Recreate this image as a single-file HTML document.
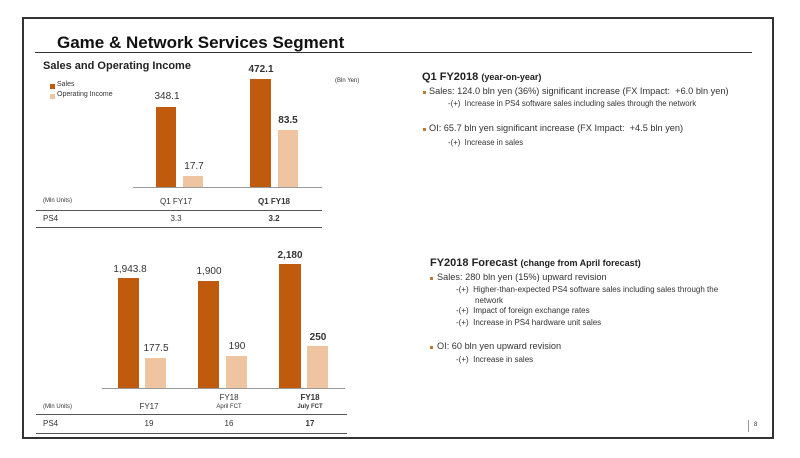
<!DOCTYPE html>
<html><head><style>
body{margin:0;width:800px;height:458px;background:#fff;font-family:"Liberation Sans",sans-serif;color:#222;position:relative;overflow:hidden}
div,span{position:absolute;white-space:nowrap}
.b{font-weight:bold}
.s{background:#c05a0c}
.o{background:#efc4a0}
.t{font-size:8px;color:#333}
.v{font-size:10px;color:#333;transform:translateX(-50%)}
.c{transform:translateX(-50%)}
.ln{background:#555;height:1px}
.sq{width:5px;height:5px}
</style></head><body>
<div style="left:22px;top:17px;width:748px;height:418px;border:2px solid #333"></div>
<div class="b" style="left:57px;top:33px;font-size:17px;color:#111">Game &amp; Network Services Segment</div>
<div style="left:35px;top:52px;width:717px;height:1px;background:#333"></div>
<div class="b" style="left:43px;top:60px;font-size:11px">Sales and Operating Income</div>
<div class="sq s" style="left:50px;top:84px"></div><div class="t" style="left:57px;top:81px;font-size:7px">Sales</div>
<div class="sq o" style="left:50px;top:94px"></div><div class="t" style="left:57px;top:91px;font-size:7px">Operating Income</div>
<div class="t" style="left:335px;top:78px;font-size:6px">(Bln Yen)</div>
<div style="left:133px;top:187px;width:189px;height:1px;background:#999"></div>
<div class="s" style="left:156px;top:107px;width:20px;height:80px"></div>
<div class="o" style="left:183px;top:176px;width:20px;height:11px"></div>
<div class="s" style="left:250px;top:79px;width:21px;height:108px"></div>
<div class="o" style="left:278px;top:130px;width:20px;height:57px"></div>
<div class="v" style="left:167px;top:91px">348.1</div>
<div class="v" style="left:194px;top:161px">17.7</div>
<div class="v b" style="left:261px;top:64px">472.1</div>
<div class="v b" style="left:288px;top:115px">83.5</div>
<div class="t" style="left:43px;top:198px;font-size:6px">(Mln Units)</div>
<div class="c t" style="left:176px;top:197px">Q1 FY17</div>
<div class="c t b" style="left:274px;top:197px">Q1 FY18</div>
<div class="ln" style="left:36px;top:210px;width:286px"></div>
<div class="t" style="left:43px;top:214px">PS4</div>
<div class="c t" style="left:176px;top:214px">3.3</div>
<div class="c t b" style="left:274px;top:214px">3.2</div>
<div class="ln" style="left:36px;top:227px;width:286px"></div>
<div style="left:102px;top:388px;width:243px;height:1px;background:#999"></div>
<div class="s" style="left:118px;top:278px;width:21px;height:110px"></div>
<div class="o" style="left:145px;top:358px;width:21px;height:30px"></div>
<div class="s" style="left:198px;top:281px;width:21px;height:107px"></div>
<div class="o" style="left:226px;top:356px;width:21px;height:32px"></div>
<div class="s" style="left:279px;top:264px;width:22px;height:124px"></div>
<div class="o" style="left:307px;top:346px;width:21px;height:42px"></div>
<div class="v" style="left:130px;top:264px">1,943.8</div>
<div class="v" style="left:156px;top:343px">177.5</div>
<div class="v" style="left:209px;top:266px">1,900</div>
<div class="v" style="left:237px;top:341px">190</div>
<div class="v b" style="left:290px;top:250px">2,180</div>
<div class="v b" style="left:318px;top:332px">250</div>
<div class="t" style="left:43px;top:404px;font-size:6px">(Mln Units)</div>
<div class="c t" style="left:149px;top:402px">FY17</div>
<div class="c t" style="left:229px;top:393px">FY18</div>
<div class="c t" style="left:229px;top:404px;font-size:6px">April FCT</div>
<div class="c t b" style="left:310px;top:393px">FY18</div>
<div class="c t b" style="left:310px;top:404px;font-size:6px">July FCT</div>
<div class="ln" style="left:36px;top:414px;width:311px"></div>
<div class="t" style="left:43px;top:419px">PS4</div>
<div class="c t" style="left:149px;top:419px">19</div>
<div class="c t" style="left:229px;top:419px">16</div>
<div class="c t b" style="left:310px;top:419px">17</div>
<div class="ln" style="left:36px;top:433px;width:311px"></div>
<div style="left:422px;top:71px;font-size:11px" class="b">Q1 FY2018 <span style="position:static;font-size:9px">(year-on-year)</span></div>
<div class="sq" style="left:423px;top:91px;width:3px;height:3px;background:#c07a30"></div>
<div style="left:429px;top:86px;font-size:9.2px;color:#333">Sales: 124.0 bln yen (36%) significant increase (FX Impact: &nbsp;+6.0 bln yen)</div>
<div style="left:448px;top:99px;font-size:7.8px;color:#333">-(+) &nbsp;Increase in PS4 software sales including sales through the network</div>
<div class="sq" style="left:423px;top:128px;width:3px;height:3px;background:#c07a30"></div>
<div style="left:429px;top:123px;font-size:9.2px;color:#333">OI: 65.7 bln yen significant increase (FX Impact: &nbsp;+4.5 bln yen)</div>
<div style="left:448px;top:138px;font-size:7.8px;color:#333">-(+) &nbsp;Increase in sales</div>
<div style="left:430px;top:257px;font-size:11px" class="b">FY2018 Forecast <span style="position:static;font-size:9px">(change from April forecast)</span></div>
<div class="sq" style="left:430px;top:277px;width:3px;height:3px;background:#c07a30"></div>
<div style="left:437px;top:272px;font-size:9.2px;color:#333">Sales: 280 bln yen (15%) upward revision</div>
<div style="left:456px;top:285px;font-size:8px;color:#333">-(+) &nbsp;Higher-than-expected PS4 software sales including sales through the</div>
<div style="left:475px;top:296px;font-size:8px;color:#333">network</div>
<div style="left:456px;top:306px;font-size:8px;color:#333">-(+) &nbsp;Impact of foreign exchange rates</div>
<div style="left:456px;top:318px;font-size:8px;color:#333">-(+) &nbsp;Increase in PS4 hardware unit sales</div>
<div class="sq" style="left:430px;top:346px;width:3px;height:3px;background:#c07a30"></div>
<div style="left:437px;top:341px;font-size:9.2px;color:#333">OI: 60 bln yen upward revision</div>
<div style="left:456px;top:355px;font-size:8px;color:#333">-(+) &nbsp;Increase in sales</div>
<div style="left:748px;top:420px;width:1px;height:12px;background:#999"></div>
<div style="left:754px;top:422px;font-size:6px;color:#333">8</div>
</body></html>
